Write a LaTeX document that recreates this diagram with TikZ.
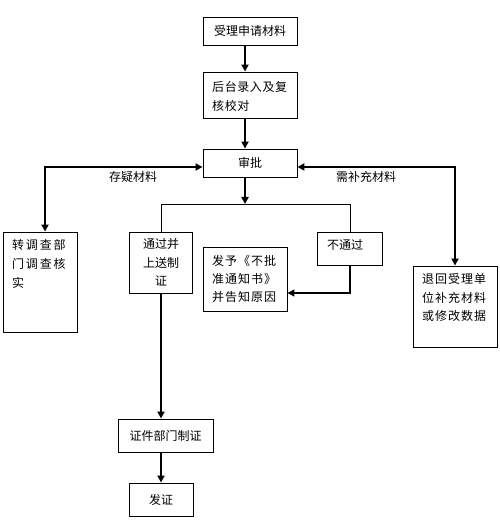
\documentclass[tikz,border=0pt]{standalone}
\usepackage{fontspec}
\setmainfont{Noto Sans CJK SC}
\usetikzlibrary{arrows.meta}
\begin{document}
\begin{tikzpicture}[x=1pt,y=-1pt,
  box/.style={draw, line width=0.9pt, inner sep=0pt, font=\fontsize{12}{18.5}\selectfont},
  txt/.style={inner sep=0pt, font=\fontsize{12}{18.5}\selectfont},
  arr/.style={line width=1.8pt, -{Triangle[length=7pt,width=7pt]}},
  dbl/.style={line width=1.8pt, {Triangle[length=7pt,width=7pt]}-{Triangle[length=7pt,width=7pt]}},
  thinline/.style={line width=1pt},
  thinarr/.style={line width=1.3pt, -{Triangle[length=7pt,width=7pt]}}]
\useasboundingbox (0,0) rectangle (499,521);
% boxes
\node[box, minimum width=94pt, minimum height=28pt] (b1) at (250,31) {受理申请材料};
\node[box, minimum width=94pt, minimum height=46pt] (b2) at (250,95) {};
\node[box, minimum width=94pt, minimum height=28pt] (b3) at (250,163) {审批};
\node[box, minimum width=74pt, minimum height=100pt] (b4) at (40,282) {};
\node[box, minimum width=84pt, minimum height=81pt] (b5) at (455,306.5) {};
\node[box, minimum width=63pt, minimum height=61pt, align=center] (b6) at (161,262.5) {通过并\\上送制\\证};
\node[box, minimum width=65pt, minimum height=33pt] (b7) at (350,248.5) {};
\node[box, minimum width=84pt, minimum height=64pt] (b8) at (245,279) {};
\node[box, minimum width=95pt, minimum height=33pt] (b9) at (165.5,435.5) {证件部门制证};
\node[box, minimum width=64pt, minimum height=33pt] (b10) at (161,499.5) {发证};
% texts in boxes
\node[txt, anchor=north west, align=left, font=\fontsize{12}{18.5}\selectfont\addfontfeatures{LetterSpace=5}] (t2) at (212,81.5) {后台录入及复\\核校对};
\node[txt, anchor=north west, align=left, font=\fontsize{12}{19}\selectfont\addfontfeatures{LetterSpace=15}] (t4) at (12,239.5) {转调查部\\门调查核\\实};
\node[txt, anchor=north west, align=left, font=\fontsize{12}{18.5}\selectfont\addfontfeatures{LetterSpace=8}] (t5) at (422,273.5) {退回受理单\\位补充材料\\或修改数据};
\node[txt] (t7) at (345,245) {不通过};
\node[txt, anchor=north west, align=left, font=\fontsize{12}{18}\selectfont\addfontfeatures{LetterSpace=8}] (t8) at (212,255.5) {发予《不批\\准通知书》\\并告知原因};
% labels
\node[txt] (l1) at (133,177) {存疑材料};
\node[txt] (l2) at (366,177) {需补充材料};
% connectors
\coordinate (j) at (245,204);
\coordinate (k) at (350,293);
\draw[arr] ([xshift=-5pt]b1.south) -- ([xshift=-5pt]b2.north);
\draw[arr] ([xshift=-5pt]b2.south) -- ([xshift=-5pt]b3.north);
\draw[arr] ([xshift=-5pt]b3.south) -- (j);
\draw[thinline] (b6.north) -- (b6.north |- j) -- (b7.north |- j) -- (b7.north);
\draw[thinarr] (b7.south) -- (k) -- (k -| b8.east);
\draw[arr] (b6.south) -- (b6.south |- b9.north);
\draw[arr] (b9.south -| b10.north) -- (b10.north);
\draw[dbl] ([yshift=-4pt]b3.west) -| ([xshift=5pt]b4.north);
\draw[dbl] ([yshift=-4pt]b3.east) -| (b5.north);
\end{tikzpicture}
\end{document}
